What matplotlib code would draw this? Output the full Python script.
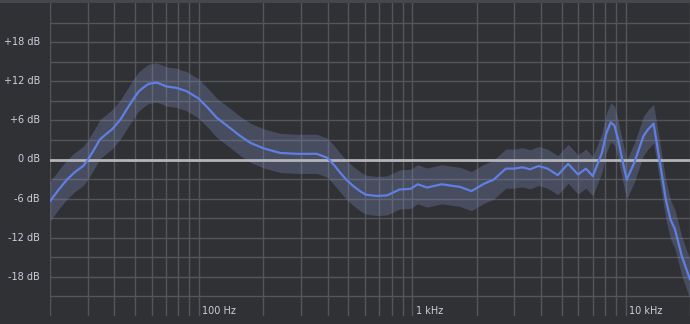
import numpy as np
import matplotlib
matplotlib.use("Agg")
import matplotlib.pyplot as plt
from matplotlib.patches import Rectangle

# Frequency response readings (Hz, dB)
freq_hz = [20, 22, 24, 26, 28.6, 30, 32, 34.3, 37, 39, 42.7, 46, 49, 52, 54.6, 58, 63, 67, 70,
           78, 87, 99, 110, 121, 140, 156, 174, 201, 240, 288, 356, 399, 430, 458, 490, 529,
           570, 606, 684, 761, 820, 870, 980, 1057, 1170, 1370, 1670, 1890, 2170, 2400, 2740,
           3000, 3270, 3560, 3900, 4300, 4800, 5370, 5970, 6500, 7000, 7730, 8100, 8500, 8850,
           9200, 9700, 10100, 10960, 11500, 12100, 12700, 13500, 14300, 15400, 16200, 17000,
           18300, 20000]
response_db = [-6.4, -4.6, -3.1, -2.0, -1.0, -0.1, 1.4, 3.1, 4.0, 4.6, 6.1, 7.8, 9.2, 10.4, 11.0,
               11.6, 11.8, 11.5, 11.2, 11.0, 10.5, 9.4, 7.9, 6.4, 4.8, 3.6, 2.55, 1.7, 1.0, 0.87,
               0.87, 0.26, -0.9, -2.0, -3.1, -4.1, -4.9, -5.4, -5.6, -5.5, -5.0, -4.6, -4.5, -3.8,
               -4.3, -3.8, -4.2, -4.85, -3.7, -3.1, -1.4, -1.4, -1.2, -1.5, -1.0, -1.4, -2.4,
               -0.66, -2.3, -1.4, -2.55, 1.0, 4.0, 5.7, 5.2, 3.1, -0.5, -3.1, -0.5, 1.5, 3.6, 4.6,
               5.5, 0.5, -6.1, -9.2, -10.7, -14.8, -18.4]
spread_db = [3.0] * len(freq_hz)

y_ticks = [18, 12, 6, 0, -6, -12, -18]
y_tick_labels = ["+18 dB", "+12 dB", "+6 dB", "0 dB", "-6 dB", "-12 dB", "-18 dB"]
x_label_freqs = [100, 1000, 10000]
x_labels = ["100 Hz", "1 kHz", "10 kHz"]

BG = "#303135"
GRID = "#535559"
TXT = "#cbd0dc"
LINE = "#5f7fe2"

W, H = 690, 324
fig = plt.figure(figsize=(W / 100, H / 100), dpi=100, facecolor=BG)
ax = fig.add_axes([50 / W, 8 / H, 640 / W, 313 / H])
ax.set_facecolor(BG)
ax.set_xscale("log")
ax.set_xlim(20, 20000)
ax.set_ylim(-24, 24)
for s in ax.spines.values():
    s.set_visible(False)
ax.set_xticks([])
ax.set_yticks([])
ax.minorticks_off()

# grid
vlines = [m * 10 ** e for e in (1, 2, 3, 4) for m in range(1, 10) if 20 <= m * 10 ** e <= 20000]
for v in vlines:
    ax.axvline(v, color=GRID, lw=1.0, zorder=1)
for hl in range(-21, 22, 3):
    if hl != 0:
        ax.axhline(hl, color=GRID, lw=1.0, zorder=1)
ax.axhline(0, color="#b4b5bb", lw=2.0, zorder=3)

f = np.array(freq_hz)
r = np.array(response_db)
sp = np.array(spread_db)
ax.fill_between(f, r - sp, r + sp, color="#808bc1", alpha=0.3, lw=0, zorder=2)
ax.plot(f, r, color=LINE, lw=1.6, zorder=4, solid_capstyle="round")

# labels
for yt, lab in zip(y_ticks, y_tick_labels):
    fig.text(40 / W, ax.transData.transform((20, yt))[1] / H, lab, ha="right", va="center",
             color=TXT, fontsize=7.0, family="DejaVu Sans")
for xf, lab in zip(x_label_freqs, x_labels):
    ax.text(xf * 1.035, -23.2, lab, ha="left", va="center", color=TXT, fontsize=7.0,
            family="DejaVu Sans", zorder=5)

fig.add_artist(Rectangle((0, 1 - 2.5 / H), 1, 2.5 / H, transform=fig.transFigure,
                         color="#46474d", lw=0))

fig.savefig("out.png", dpi=100, facecolor=BG)
